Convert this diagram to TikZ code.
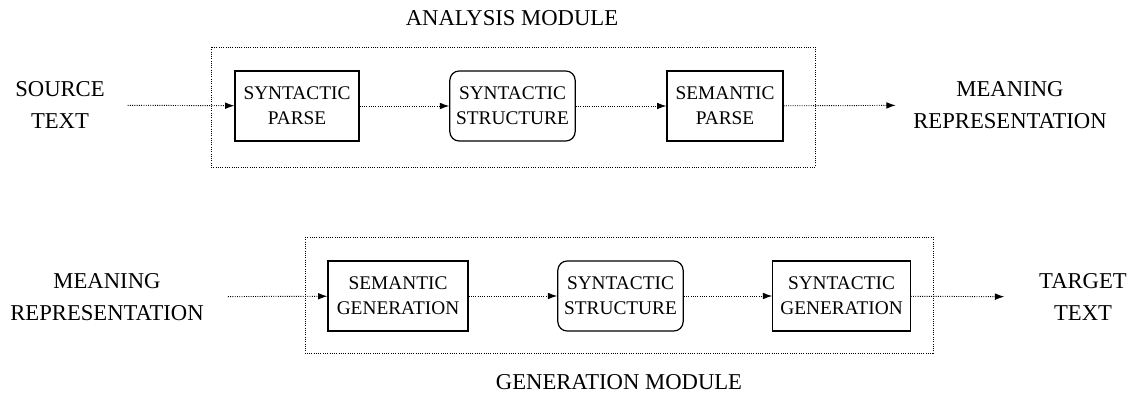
\documentclass[tikz,border=0pt]{standalone}
\usepackage{fontspec}
\setmainfont{Liberation Serif}
\usetikzlibrary{arrows.meta}

\tikzset{
  proc/.style={draw, line width=0.9pt, minimum height=52.5pt, align=center, inner sep=2pt, font=\fontsize{14.5}{18.5}\selectfont},
  store/.style={proc, rounded corners=7pt},
  lbl/.style={align=center, inner sep=0pt, font=\fontsize{17}{24.5}\selectfont},
  frame/.style={densely dotted, line width=0.7pt},
  flow/.style={densely dotted, line width=0.7pt, -{Latex[length=7pt,width=5pt]}}
}

\begin{document}
\begin{tikzpicture}[x=0.75pt,y=0.75pt,yscale=-1,xscale=1]
\useasboundingbox (0,0) rectangle (1131,395);

%Shape: Rectangle [analysis module]
\draw [frame] (211,47) rectangle (815,167) ;
%Shape: Rectangle [generation module]
\draw [frame] (305,237) rectangle (933,353) ;

% Text Node
\node [lbl] (anatitle) at (512,18) {ANALYSIS MODULE};
% Text Node
\node [lbl] (gentitle) at (619,382) {GENERATION MODULE};

% top row
\node [lbl] (srctext) at (60,105) {SOURCE\\TEXT};
\node [proc, minimum width=93pt] (synparse) at (297,106) {SYNTACTIC\\PARSE};
\node [store, minimum width=94pt] (synstruct) at (512.5,106) {SYNTACTIC\\STRUCTURE};
\node [proc, minimum width=87pt] (semparse) at (725,106) {SEMANTIC\\PARSE};
\node [lbl] (meanout) at (1010,105) {MEANING\\REPRESENTATION};

%Straight Lines
\draw [flow, shorten <=17pt] (srctext) -- (synparse) ;
\draw [flow] (synparse) -- (synstruct) ;
\draw [flow] (synstruct) -- (semparse) ;
\draw [flow, shorten >=13pt] (semparse) -- (meanout) ;

% bottom row
\node [lbl] (meanin) at (107,297) {MEANING\\REPRESENTATION};
\node [proc, minimum width=105pt] (semgen) at (398,296) {SEMANTIC\\GENERATION};
\node [store, minimum width=94pt] (synstruct2) at (620.5,296) {SYNTACTIC\\STRUCTURE};
\node [proc, minimum width=103pt] (syngen) at (841.5,296) {SYNTACTIC\\GENERATION};
\node [lbl] (tgttext) at (1083,297) {TARGET\\TEXT};

%Straight Lines
\draw [flow, shorten <=18pt] (meanin) -- (semgen) ;
\draw [flow] (semgen) -- (synstruct2) ;
\draw [flow] (synstruct2) -- (syngen) ;
\draw [flow, shorten >=26pt] (syngen) -- (tgttext) ;

\end{tikzpicture}
\end{document}
